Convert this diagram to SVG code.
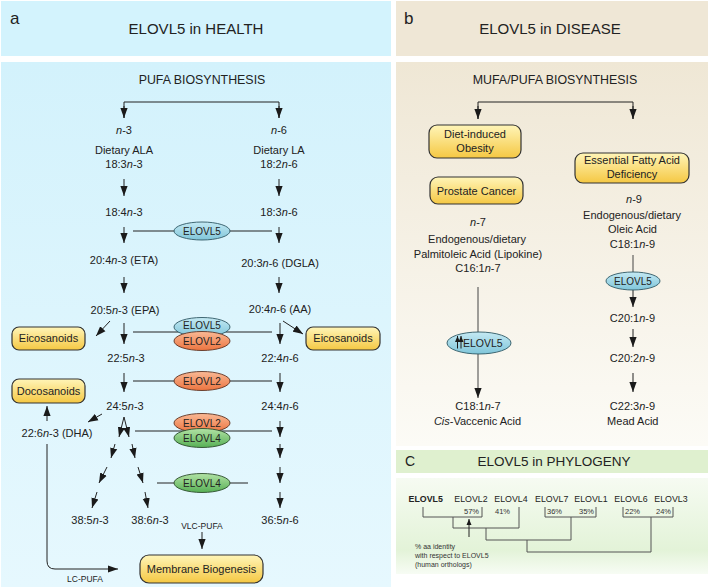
<svg xmlns="http://www.w3.org/2000/svg" width="708" height="587" viewBox="0 0 708 587">
<defs>
  <linearGradient id="gA" x1="0" y1="0" x2="0" y2="1"><stop offset="0" stop-color="#d3f2fc"/><stop offset="1" stop-color="#e6f8fe"/></linearGradient>
  <linearGradient id="gB" x1="0" y1="0" x2="0" y2="1"><stop offset="0" stop-color="#efe7d5"/><stop offset="1" stop-color="#fcfbf6"/></linearGradient>
  <linearGradient id="gC" x1="0" y1="0" x2="0" y2="1"><stop offset="0" stop-color="#f6fbf2"/><stop offset="0.75" stop-color="#e3f3d8"/><stop offset="1" stop-color="#f7fcf4"/></linearGradient>
  <linearGradient id="gY" x1="0" y1="0" x2="0" y2="1"><stop offset="0" stop-color="#fff5b8"/><stop offset="1" stop-color="#f5c843"/></linearGradient>
  <linearGradient id="gBl" x1="0" y1="0" x2="0" y2="1"><stop offset="0" stop-color="#c4e9f3"/><stop offset="1" stop-color="#80c6da"/></linearGradient>
  <linearGradient id="gOr" x1="0" y1="0" x2="0" y2="1"><stop offset="0" stop-color="#f9b995"/><stop offset="1" stop-color="#ec7440"/></linearGradient>
  <linearGradient id="gGr" x1="0" y1="0" x2="0" y2="1"><stop offset="0" stop-color="#b2e2a5"/><stop offset="1" stop-color="#57b055"/></linearGradient>
  <marker id="ah" markerUnits="userSpaceOnUse" markerWidth="10" markerHeight="8" refX="10" refY="4" orient="auto"><path d="M0,0.4 L10,4 L0,7.6 z" fill="#1a1a1a"/></marker>
  <marker id="ahs" markerUnits="userSpaceOnUse" markerWidth="6" markerHeight="6" refX="6" refY="3" orient="auto"><path d="M0,0.5 L6,3 L0,5.5 z" fill="#1a1a1a"/></marker>
</defs>
<style>
  text{font-family:"Liberation Sans",Arial,sans-serif;fill:#222}
  .t{font-size:11px;text-anchor:middle}
  .hd{font-size:15px;text-anchor:middle}
  .lt{font-size:17px}
  .sub{font-size:12.4px;text-anchor:middle}
  .en{font-size:10px;text-anchor:middle}
  .sm{font-size:8.5px;text-anchor:middle}
  .ph{font-size:8.8px;text-anchor:middle}
  .pc{font-size:7.5px;fill:#333}
  .nt{font-size:7px;fill:#333}
  .ln{stroke:#222;stroke-width:1;fill:none}
  .ar{stroke:#222;stroke-width:1;fill:none;marker-end:url(#ah)}
  .tr{stroke:#555;stroke-width:1;fill:none}
  .box{fill:url(#gY);stroke:#333;stroke-width:1.2}
  .eb{fill:url(#gBl);stroke:#2f5864;stroke-width:0.9}
  .eo{fill:url(#gOr);stroke:#5e3322;stroke-width:0.9}
  .eg{fill:url(#gGr);stroke:#2d4d2d;stroke-width:0.9}
</style>

<!-- panel backgrounds -->
<g id="panels">
  <rect x="1" y="1" width="390" height="55" fill="#d3f3fd"/>
  <rect x="1" y="62" width="390" height="525" fill="url(#gA)"/>
  <rect x="396" y="1" width="312" height="55" fill="#efe7d6"/>
  <rect x="396" y="62" width="312" height="384" fill="url(#gB)"/>
  <rect x="396" y="450" width="312" height="23" fill="#dff0cf"/>
  <rect x="396" y="478" width="312" height="96" fill="url(#gC)"/>
  <text class="lt" x="10" y="24">a</text>
  <text class="hd" x="196" y="34">ELOVL5 in HEALTH</text>
  <text class="lt" x="404" y="24">b</text>
  <text class="hd" x="550" y="34">ELOVL5 in DISEASE</text>
  <text x="405" y="466" style="font-size:14px">C</text>
  <text x="554" y="466" style="font-size:13.5px;text-anchor:middle">ELOVL5 in PHYLOGENY</text>
  <text class="sub" x="202" y="84">PUFA BIOSYNTHESIS</text>
  <text class="sub" x="555" y="84">MUFA/PUFA BIOSYNTHESIS</text>
</g>

<!-- connectors -->
<g id="connectors">
  <path class="ln" d="M124,118 V102 H279 V118"/>
  <line class="ar" x1="124" y1="106" x2="124" y2="118"/>
  <line class="ar" x1="279" y1="106" x2="279" y2="118"/>
  <line class="ln" x1="133" y1="231" x2="272" y2="231"/>
  <line class="ln" x1="133" y1="332" x2="272" y2="332"/>
  <line class="ln" x1="133" y1="381" x2="272" y2="381"/>
  <line class="ln" x1="135" y1="431" x2="272" y2="431"/>
  <line class="ln" x1="157" y1="483" x2="248" y2="483"/>
  <line class="ar" x1="124" y1="179" x2="124" y2="196"/>
  <line class="ar" x1="124" y1="227" x2="124" y2="243"/>
  <line class="ar" x1="124" y1="277" x2="124" y2="293"/>
  <line class="ar" x1="124" y1="323" x2="124" y2="344"/>
  <line class="ar" x1="124" y1="373" x2="124" y2="392"/>
  <line class="ar" x1="110" y1="321" x2="96" y2="336"/>
  <line class="ar" x1="102" y1="414" x2="88" y2="422"/>
  <line class="ar" x1="279" y1="179" x2="279" y2="196"/>
  <line class="ar" x1="279" y1="227" x2="279" y2="243"/>
  <line class="ar" x1="279" y1="277" x2="279" y2="293"/>
  <line class="ar" x1="280" y1="323" x2="280" y2="344"/>
  <line class="ar" x1="280" y1="373" x2="280" y2="392"/>
  <line class="ar" x1="283" y1="321" x2="303" y2="334"/>
  <line class="ar" x1="280" y1="421" x2="280" y2="437"/>
  <line class="ar" x1="280" y1="444" x2="280" y2="458"/>
  <line class="ar" x1="280" y1="467" x2="280" y2="483"/>
  <line class="ar" x1="280" y1="492" x2="280" y2="508"/>
  <line class="ar" x1="124" y1="417" x2="119" y2="437"/>
  <line class="ar" x1="124" y1="417" x2="129" y2="437"/>
  <line class="ar" x1="115" y1="444" x2="111" y2="458"/>
  <line class="ar" x1="107" y1="467" x2="99" y2="483"/>
  <line class="ar" x1="97" y1="492" x2="92" y2="508"/>
  <line class="ar" x1="132" y1="444" x2="135" y2="458"/>
  <line class="ar" x1="138" y1="467" x2="143" y2="483"/>
  <line class="ar" x1="145" y1="492" x2="148" y2="508"/>
  <line class="ar" x1="47" y1="421" x2="47" y2="406"/>
  <path class="ar" d="M47,444 V561 Q47,569 55,569 H118"/>
  <line class="ar" x1="202" y1="532" x2="202" y2="549"/>

  <path class="ln" d="M478,119 V102 H633 V119"/>
  <line class="ar" x1="478" y1="106" x2="478" y2="119"/>
  <line class="ar" x1="633" y1="106" x2="633" y2="119"/>
  <line class="ar" x1="478" y1="287" x2="478" y2="398" style="stroke:#444"/>
  <line class="ln" x1="633" y1="255" x2="633" y2="281" style="stroke:#444"/>
  <line class="ar" x1="633" y1="290" x2="633" y2="307"/>
  <line class="ar" x1="633" y1="329" x2="633" y2="347"/>
  <line class="ar" x1="633" y1="373" x2="633" y2="392"/>

  <path class="tr" d="M423,507 V517 H482 V507"/>
  <path class="tr" d="M453,517 V528 H519 V507"/>
  <path class="tr" d="M486,528 V540 H571"/>
  <path class="tr" d="M545,507 V517 H596 V507"/>
  <path class="tr" d="M571,517 V540"/>
  <path class="tr" d="M527,540 V552 H651 V517"/>
  <path class="tr" d="M623,507 V517 H673 V507"/>
  <line x1="469" y1="537" x2="469" y2="519" stroke="#222" stroke-width="1" marker-end="url(#ahs)"/>
</g>

<g id="n3-head">
  <text class="t" x="124" y="134"><tspan font-style="italic">n</tspan>-3</text>
  <text class="t" x="124" y="154">Dietary ALA</text>
  <text class="t" x="124" y="168">18:3<tspan font-style="italic">n</tspan>-3</text>
</g>
<g id="n6-head">
  <text class="t" x="279" y="134"><tspan font-style="italic">n</tspan>-6</text>
  <text class="t" x="279" y="154">Dietary LA</text>
  <text class="t" x="279" y="168">18:2<tspan font-style="italic">n</tspan>-6</text>
</g>
<g id="fa-18-4"><text class="t" x="124" y="216">18:4<tspan font-style="italic">n</tspan>-3</text></g>
<g id="fa-18-3n6"><text class="t" x="279" y="216">18:3<tspan font-style="italic">n</tspan>-6</text></g>
<g id="fa-eta"><text class="t" x="124" y="264">20:4<tspan font-style="italic">n</tspan>-3 (ETA)</text></g>
<g id="fa-dgla"><text class="t" x="280" y="267">20:3<tspan font-style="italic">n</tspan>-6 (DGLA)</text></g>
<g id="fa-epa"><text class="t" x="125" y="314">20:5<tspan font-style="italic">n</tspan>-3 (EPA)</text></g>
<g id="fa-aa"><text class="t" x="280" y="313">20:4<tspan font-style="italic">n</tspan>-6 (AA)</text></g>
<g id="fa-22-5"><text class="t" x="126" y="362">22:5<tspan font-style="italic">n</tspan>-3</text></g>
<g id="fa-22-4"><text class="t" x="280" y="362">22:4<tspan font-style="italic">n</tspan>-6</text></g>
<g id="fa-24-5"><text class="t" x="125" y="410">24:5<tspan font-style="italic">n</tspan>-3</text></g>
<g id="fa-24-4"><text class="t" x="280" y="410">24:4<tspan font-style="italic">n</tspan>-6</text></g>
<g id="fa-dha"><text class="t" x="57" y="437">22:6<tspan font-style="italic">n</tspan>-3 (DHA)</text></g>
<g id="fa-38-5"><text class="t" x="90" y="524">38:5<tspan font-style="italic">n</tspan>-3</text></g>
<g id="fa-38-6"><text class="t" x="150" y="524">38:6<tspan font-style="italic">n</tspan>-3</text></g>
<g id="fa-36-5"><text class="t" x="280" y="524">36:5<tspan font-style="italic">n</tspan>-6</text></g>
<g id="lbl-vlc"><text class="sm" x="202" y="529">VLC-PUFA</text></g>
<g id="lbl-lc"><text class="sm" x="85" y="582">LC-PUFA</text></g>

<g id="enz-a1"><ellipse class="eb" cx="202" cy="231" rx="28" ry="9"/><text class="en" x="202" y="234.5">ELOVL5</text></g>
<g id="enz-a2"><ellipse class="eb" cx="202" cy="327" rx="28" ry="9.5"/><text class="en" x="202" y="329">ELOVL5</text></g>
<g id="enz-a3"><ellipse class="eo" cx="202" cy="341" rx="28" ry="9.5"/><text class="en" x="202" y="344.5">ELOVL2</text></g>
<g id="enz-a4"><ellipse class="eo" cx="202" cy="381" rx="28" ry="9.5"/><text class="en" x="202" y="384.5">ELOVL2</text></g>
<g id="enz-a6"><ellipse class="eo" cx="202" cy="423" rx="28" ry="9.5"/><text class="en" x="202" y="426.5">ELOVL2</text></g>
<g id="enz-a5"><ellipse class="eg" cx="202" cy="438" rx="28" ry="9.5"/><text class="en" x="202" y="441.5">ELOVL4</text></g>
<g id="enz-a7"><ellipse class="eg" cx="202" cy="483" rx="28" ry="9.5"/><text class="en" x="202" y="486.5">ELOVL4</text></g>

<g id="box-eico-l"><rect class="box" x="12" y="327" width="73" height="23" rx="7"/><text class="t" x="48.5" y="342">Eicosanoids</text></g>
<g id="box-eico-r"><rect class="box" x="306" y="327" width="74" height="23" rx="7"/><text class="t" x="343" y="342">Eicosanoids</text></g>
<g id="box-doco"><rect class="box" x="12" y="379" width="73" height="24" rx="7"/><text class="t" x="48.5" y="395">Docosanoids</text></g>
<g id="box-membrane"><rect class="box" x="140" y="555" width="123" height="28" rx="9"/><text class="t" x="201.5" y="573">Membrane Biogenesis</text></g>

<g id="box-obesity"><rect class="box" x="429" y="125" width="92" height="33" rx="8"/><text class="t" x="475" y="138">Diet-induced</text><text class="t" x="475" y="152">Obesity</text></g>
<g id="box-efad"><rect class="box" x="575" y="153" width="114" height="30" rx="8"/><text class="t" x="632" y="164">Essential Fatty Acid</text><text class="t" x="632" y="178">Deficiency</text></g>
<g id="box-prostate"><rect class="box" x="430" y="177" width="93" height="27" rx="8"/><text class="t" x="476.5" y="195">Prostate Cancer</text></g>
<g id="n7-head">
  <text class="t" x="478" y="226"><tspan font-style="italic">n</tspan>-7</text>
  <text class="t" x="477" y="243">Endogenous/dietary</text>
  <text class="t" x="478" y="257.5">Palmitoleic Acid (Lipokine)</text>
  <text class="t" x="478" y="272">C16:1<tspan font-style="italic">n</tspan>-7</text>
</g>
<g id="n9-head">
  <text class="t" x="634" y="203"><tspan font-style="italic">n</tspan>-9</text>
  <text class="t" x="632" y="218.5">Endogenous/dietary</text>
  <text class="t" x="632.5" y="233">Oleic Acid</text>
  <text class="t" x="632.5" y="247.5">C18:1<tspan font-style="italic">n</tspan>-9</text>
</g>
<g id="enz-b1">
  <ellipse class="eb" cx="479" cy="343" rx="32" ry="11"/>
  <line x1="457.5" y1="348.5" x2="457.5" y2="336" stroke="#1a1a1a" stroke-width="1" marker-end="url(#ahs)"/>
  <line x1="461" y1="348.5" x2="461" y2="336" stroke="#1a1a1a" stroke-width="1" marker-end="url(#ahs)"/>
  <text x="463" y="347" style="font-size:10.5px">ELOVL5</text>
</g>
<g id="enz-b2"><ellipse class="eb" cx="633" cy="281" rx="27" ry="9"/><text class="en" x="633" y="284.5">ELOVL5</text></g>
<g id="fa-c18-1n7"><text class="t" x="478" y="410">C18:1<tspan font-style="italic">n</tspan>-7</text><text class="t" x="477.5" y="425"><tspan font-style="italic">Cis</tspan>-Vaccenic Acid</text></g>
<g id="fa-c20-1"><text class="t" x="632.5" y="322">C20:1<tspan font-style="italic">n</tspan>-9</text></g>
<g id="fa-c20-2"><text class="t" x="632.5" y="362">C20:2<tspan font-style="italic">n</tspan>-9</text></g>
<g id="fa-mead"><text class="t" x="632.5" y="410">C22:3<tspan font-style="italic">n</tspan>-9</text><text class="t" x="632.8" y="425">Mead Acid</text></g>

<g id="phylo-labels">
  <text class="ph" x="425.7" y="502" font-weight="bold">ELOVL5</text>
  <text class="ph" x="471" y="502">ELOVL2</text>
  <text class="ph" x="511" y="502">ELOVL4</text>
  <text class="ph" x="551.7" y="502">ELOVL7</text>
  <text class="ph" x="591" y="502">ELOVL1</text>
  <text class="ph" x="631" y="502">ELOVL6</text>
  <text class="ph" x="671" y="502">ELOVL3</text>
</g>
<g id="phylo-pct">
  <text class="pc" x="479" y="514" text-anchor="end">57%</text>
  <text class="pc" x="510" y="514" text-anchor="end">41%</text>
  <text class="pc" x="547" y="514">36%</text>
  <text class="pc" x="594" y="514" text-anchor="end">35%</text>
  <text class="pc" x="625" y="514">22%</text>
  <text class="pc" x="671" y="514" text-anchor="end">24%</text>
</g>
<g id="phylo-note">
  <text class="nt" x="415" y="548.5">% aa identity</text>
  <text class="nt" x="415" y="557.5">with respect to ELOVL5</text>
  <text class="nt" x="415" y="566.5">(human orthologs)</text>
</g>
</svg>
